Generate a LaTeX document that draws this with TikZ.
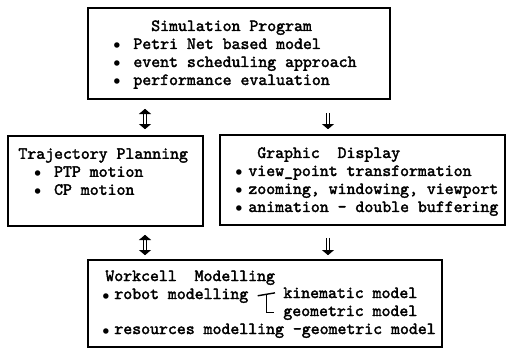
\documentclass[tikz,border=0pt]{standalone}
\usepackage{fontspec}
\newfontfamily\typefont{lmmono10-regular.otf}[FakeBold=2.2]
\usetikzlibrary{positioning,arrows.meta,calc}

\newcommand{\bul}[1]{\llap{{\fontsize{6.5}{6.5}\selectfont$\bullet$}\hspace{#1}}}

\begin{document}
\begin{tikzpicture}[x=0.5pt, y=-0.5pt,
    box/.style={draw, rectangle, line width=0.8pt, inner sep=0pt},
    txt/.style={font=\typefont\fontsize{8.5}{9}\selectfont, align=left, inner sep=0pt, anchor=north west},
    link/.style={double, double distance=1.4pt, line width=0.5pt},
    dtip/.tip={Triangle[width=6pt, length=2.6pt]}]
    \useasboundingbox (0,0) rectangle (507,349);

    % Simulation Program
    \node[box, minimum width=151pt, minimum height=45.5pt] (sim) at (239,53.5) {};
    \node[txt] (simtxt) at (133,20) {~~Simulation Program\\
        \bul{6.3pt}Petri Net based model\\
        \bul{6.3pt}event scheduling approach\\
        \bul{6.3pt}performance evaluation};

    % Trajectory Planning
    \node[box, minimum width=97.5pt, minimum height=45pt] (traj) at (105.5,181) {};
    \node[txt] (trajtxt) at (18,148) {Trajectory Planning\\
        ~~~~\bul{6.3pt}PTP motion\\
        ~~~~\bul{6.3pt}CP motion};

    % Graphic Display
    \node[box, minimum width=142.5pt, minimum height=45pt] (disp) at (362.5,180) {};
    \node[txt] (disptxt) at (248,147) {~Graphic~~Display\\
        \bul{2.8pt}view\_point transformation\\
        \bul{2.8pt}zooming, windowing, viewport\\
        \bul{2.8pt}animation - double buffering};

    % Workcell Modelling
    \node[box, minimum width=177pt, minimum height=43.5pt] (work) at (265,303.5) {};
    \node[txt, anchor=base west] (worktxt) at (105,281) {Workcell~~Modelling};
    \node[txt, anchor=base west] (robot) at (114,299) {\bul{2.3pt}robot modelling};
    \node[txt, anchor=base west] (kin) at (283,298) {kinematic model};
    \node[txt, anchor=base west] (geo) at (283,316) {geometric model};
    \node[txt, anchor=base west] (res) at (114,334) {\bul{2.3pt}resources modelling -geometric model};

    % bracket
    \coordinate (fork) at ($([xshift=4.5pt]robot.east)!0.5!([xshift=-4pt]kin.west)$);
    \draw[line width=0.7pt] ([xshift=4.5pt]robot.east) -- ([xshift=-4pt]kin.west);
    \draw[line width=0.7pt] (fork) |- ([xshift=-4.5pt]geo.west);

    % links
    \coordinate (lx) at (145,0);
    \coordinate (rx) at (328,0);
    \draw[link, {dtip}-{dtip}, shorten <=4.5pt, shorten >=3pt] (sim.south -| lx) -- (traj.north -| lx);
    \draw[link, -{dtip}, shorten <=6.5pt, shorten >=2.5pt] (sim.south -| rx) -- (disp.north -| rx);
    \draw[link, {dtip}-{dtip}, shorten <=4pt, shorten >=2pt] (traj.south -| lx) -- (work.north -| lx);
    \draw[link, -{dtip}, shorten <=6pt, shorten >=2pt] (disp.south -| rx) -- (work.north -| rx);
\end{tikzpicture}
\end{document}
